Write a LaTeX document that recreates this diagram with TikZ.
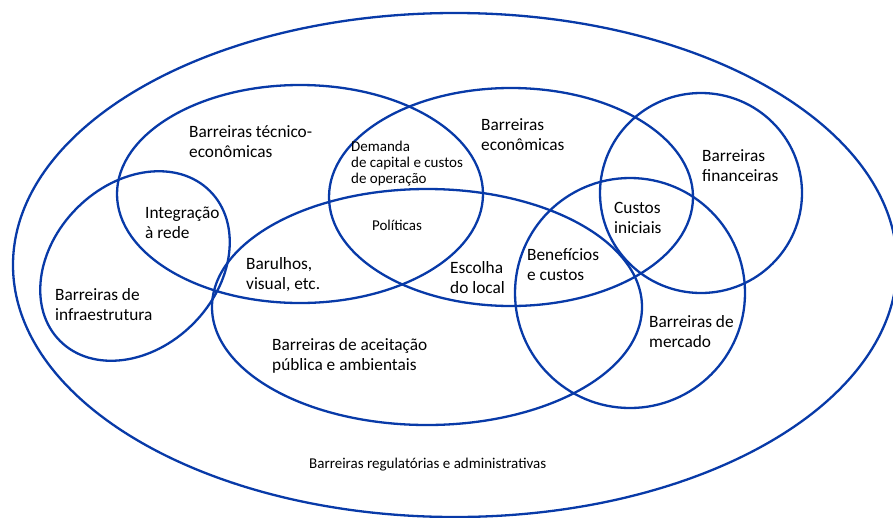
\documentclass[tikz,border=0pt]{standalone}
\usepackage{fontspec}
\setmainfont{Carlito}
\definecolor{vennblue}{RGB}{8,58,168}
\begin{document}
\begin{tikzpicture}[x=1pt,y=-1pt,
  ring/.style={draw=vennblue,line width=2.3pt},
  big/.style={inner sep=0pt,anchor=west,align=left,font=\fontsize{17.3}{20}\selectfont},
  small/.style={inner sep=0pt,anchor=west,align=left,font=\fontsize{15}{16}\selectfont}]
\useasboundingbox (0,0) rectangle (893,517);
\fill[white] (0,0) rectangle (893,517);
% outer ellipse
\draw[ring] (455,265) ellipse [x radius=442pt, y radius=252pt];
% tecnico-economicas
\draw[ring] (300,194) ellipse [x radius=183pt, y radius=109pt];
% economicas
\draw[ring] (511,197) ellipse [x radius=182pt, y radius=109pt];
% infraestrutura
\draw[ring,rotate around={45:(135,266)}] (135,266) ellipse [x radius=106pt, y radius=82pt];
% aceitacao publica
\draw[ring] (427,307) ellipse [x radius=215pt, y radius=118pt];
% financeiras
\draw[ring] (701,193) ellipse [x radius=101pt, y radius=100pt];
% mercado
\draw[ring] (630,293) ellipse [x radius=115pt, y radius=115pt];

\node[big] (tec) at (189,142) {Barreiras técnico-\\econômicas};
\node[big] (integ) at (145,223) {Integração\\à rede};
\node[big] (infra) at (55,305) {Barreiras de\\infraestrutura};
\node[big] (barul) at (246,274.5) {Barulhos,\\visual, etc.};
\node[small] (dem) at (351,164) {Demanda\\de capital e custos\\de operação};
\node[small,anchor=center] (pol) at (397,225) {Políticas};
\node[big] (econ) at (481,135) {Barreiras\\econômicas};
\node[big] (esc) at (450,278) {Escolha\\do local};
\node[big] (ben) at (527,265) {Benefícios\\e custos};
\node[big] (cust) at (614,218) {Custos\\iniciais};
\node[big] (fin) at (702,166) {Barreiras\\financeiras};
\node[big] (merc) at (649,332) {Barreiras de\\mercado};
\node[big] (acei) at (272,356) {Barreiras de aceitação\\pública e ambientais};
\node[small] (reg) at (309,465) {Barreiras regulatórias e administrativas};
\end{tikzpicture}
\end{document}
